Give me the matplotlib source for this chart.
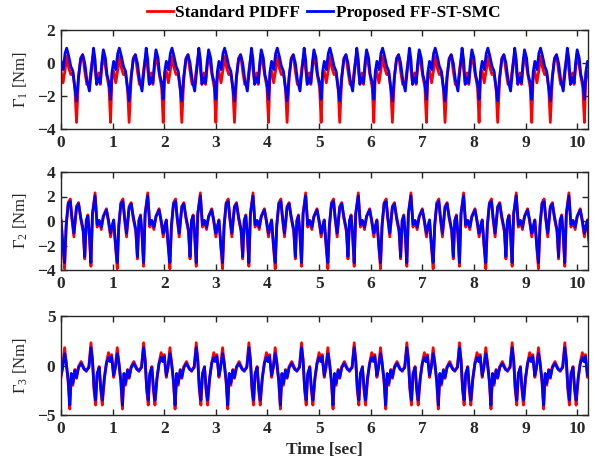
import numpy as np
import matplotlib
matplotlib.use("Agg")
import matplotlib.pyplot as plt

plt.rcParams['font.family'] = ['Liberation Serif', 'DejaVu Serif']
plt.rcParams['mathtext.fontset'] = 'custom'
plt.rcParams['mathtext.rm'] = 'Liberation Serif'
plt.rcParams['mathtext.it'] = 'Liberation Serif:italic'

# ---- data: one gait-like cycle, repeated over the record ----
period = 1.02
t_end = 10.21

t1_cycle = [0.00, 0.04, 0.08, 0.11, 0.15, 0.19, 0.23, 0.27, 0.30, 0.34, 0.38, 0.42, 0.46, 0.50,
            0.55, 0.59, 0.63, 0.66, 0.69, 0.73, 0.76, 0.79, 0.82, 0.86, 0.89, 0.93, 0.96, 0.99]
pidff1 = [-0.5, -1.2, -0.4, 0.4, -0.3, -0.7, -0.6, -1.6, -3.6, -0.9, 0.3, 0.5, -0.5, -1.3,
          -1.2, -0.2, 0.6, -0.4, -1.2, -0.6, -1.3, -0.3, 0.6, -0.2, -0.8, -1.5, -3.6, -0.6]
smc1 = [0.1, -0.4, 0.6, 0.9, 0.4, -0.2, -0.5, -1.5, -2.3, -0.8, 0.2, 0.5, 0.0, -1.0,
        -1.7, -0.4, 0.9, 0.2, -1.3, -0.9, -1.2, 0.0, 0.8, 0.3, -0.7, -1.2, -2.2, -0.5]

t2_cycle = [0.00, 0.04, 0.07, 0.10, 0.14, 0.18, 0.21, 0.25, 0.30, 0.34, 0.38, 0.43, 0.46, 0.49,
            0.52, 0.55, 0.58, 0.61, 0.66, 0.70, 0.74, 0.78, 0.82, 0.88, 0.92, 0.96, 0.99]
pidff2 = [0.1, -2.3, -3.9, -0.5, 1.5, 1.8, 0.2, -1.3, 1.2, 1.5, 0.2, -0.9, -3.1, 0.0,
          0.5, -1.3, -3.7, 0.6, 2.3, -0.5, 0.0, -0.7, 0.4, 1.0, -0.1, -1.3, -0.6]
smc2 = [0.05, -2.1, -3.4, -0.3, 1.4, 1.6, 0.35, -1.0, 1.1, 1.4, 0.35, -0.7, -2.9, 0.05,
        0.4, -1.0, -3.4, 0.6, 2.05, -0.3, 0.05, -0.5, 0.35, 0.9, 0.05, -1.0, -0.4]

t3_cycle = [0.00, 0.03, 0.07, 0.10, 0.14, 0.17, 0.20, 0.23, 0.27, 0.30, 0.34, 0.39, 0.45, 0.49,
            0.54, 0.58, 0.61, 0.64, 0.67, 0.70, 0.74, 0.77, 0.80, 0.84, 0.88, 0.92, 0.95, 0.98]
pidff3 = [-1.2, -0.2, 1.8, 0.4, -1.8, -4.4, -1.0, -2.0, -0.4, -1.3, -0.1, 0.4, -0.3, -0.6,
          -0.1, 2.3, 0.6, -2.5, -4.0, -1.0, -0.1, -2.5, -4.0, -1.4, 0.3, 1.3, 0.6, 1.1]
smc3 = [-1.0, -0.3, 1.2, 0.3, -1.5, -4.0, -0.8, -1.8, -0.5, -1.2, -0.2, 0.2, -0.4, -0.5,
        -0.2, 1.8, 0.5, -2.2, -3.5, -0.8, -0.2, -2.2, -3.5, -1.2, 0.2, 0.8, 0.4, 0.9]

ylabels = [r'$\Gamma_1$ [Nm]', r'$\Gamma_2$ [Nm]', r'$\Gamma_3$ [Nm]']
yticks = [[-4, -2, 0, 2], [-4, -2, 0, 2, 4], [-5, 0, 5]]
ylims = [(-4, 2), (-4, 4), (-5, 5)]
xticks = list(range(0, 11))
legend_labels = ['Standard PIDFF', 'Proposed FF-ST-SMC']


def repeat_cycle(tc, vals):
    tc = np.asarray(tc)
    vals = np.asarray(vals)
    n = int(np.ceil(t_end / period)) + 1
    t = np.concatenate([tc + k * period for k in range(n)])
    v = np.tile(vals, n)
    m = t <= t_end + 0.05
    return t[m], v[m]


series = [(t1_cycle, pidff1, smc1), (t2_cycle, pidff2, smc2), (t3_cycle, pidff3, smc3)]

W, H = 594, 459
fig = plt.figure(figsize=(W / 100, H / 100), dpi=100)
left = 61 / W
width = (588 - 61) / W
boxes = [(30, 129), (172, 270), (316, 415)]
edge = '#262626'

axes = []
for i, (top, bot) in enumerate(boxes):
    ax = fig.add_axes([left, 1 - bot / H, width, (bot - top) / H])
    tc, red, blue = series[i]
    tr, vr = repeat_cycle(tc, red)
    tb, vb = repeat_cycle(tc, blue)
    l1, = ax.plot(tr, vr, color='#ff0000', lw=2.0, label=legend_labels[0])
    l2, = ax.plot(tb, vb, color='#0000ff', lw=2.0, label=legend_labels[1])
    ax.set_xlim(0, t_end)
    ax.set_ylim(*ylims[i])
    ax.set_xticks(xticks)
    ax.set_yticks(yticks[i])
    ax.tick_params(direction='in', top=True, right=True, length=4, width=1.0,
                   labelsize=12.5, colors=edge, labelcolor='#262626', pad=4)
    for lab in ax.get_xticklabels() + ax.get_yticklabels():
        lab.set_fontweight('bold')
    for s in ax.spines.values():
        s.set_color(edge)
        s.set_linewidth(1.0)
    ax.set_ylabel(ylabels[i], fontsize=12, color='#262626')
    ax.yaxis.set_label_coords(-0.058, 0.5)
    axes.append(ax)

axes[-1].set_xlabel('Time [sec]', fontsize=12.5, fontweight='bold', color='#262626', labelpad=4)

fig.legend(handles=[l1, l2], labels=legend_labels, loc='center', bbox_to_anchor=(0.545, 1 - 13 / H),
           ncol=2, frameon=False, prop={'weight': 'bold', 'size': 12.5},
           handlelength=1.5, handletextpad=0.15, columnspacing=0.4)

fig.savefig('out.png', dpi=100)
